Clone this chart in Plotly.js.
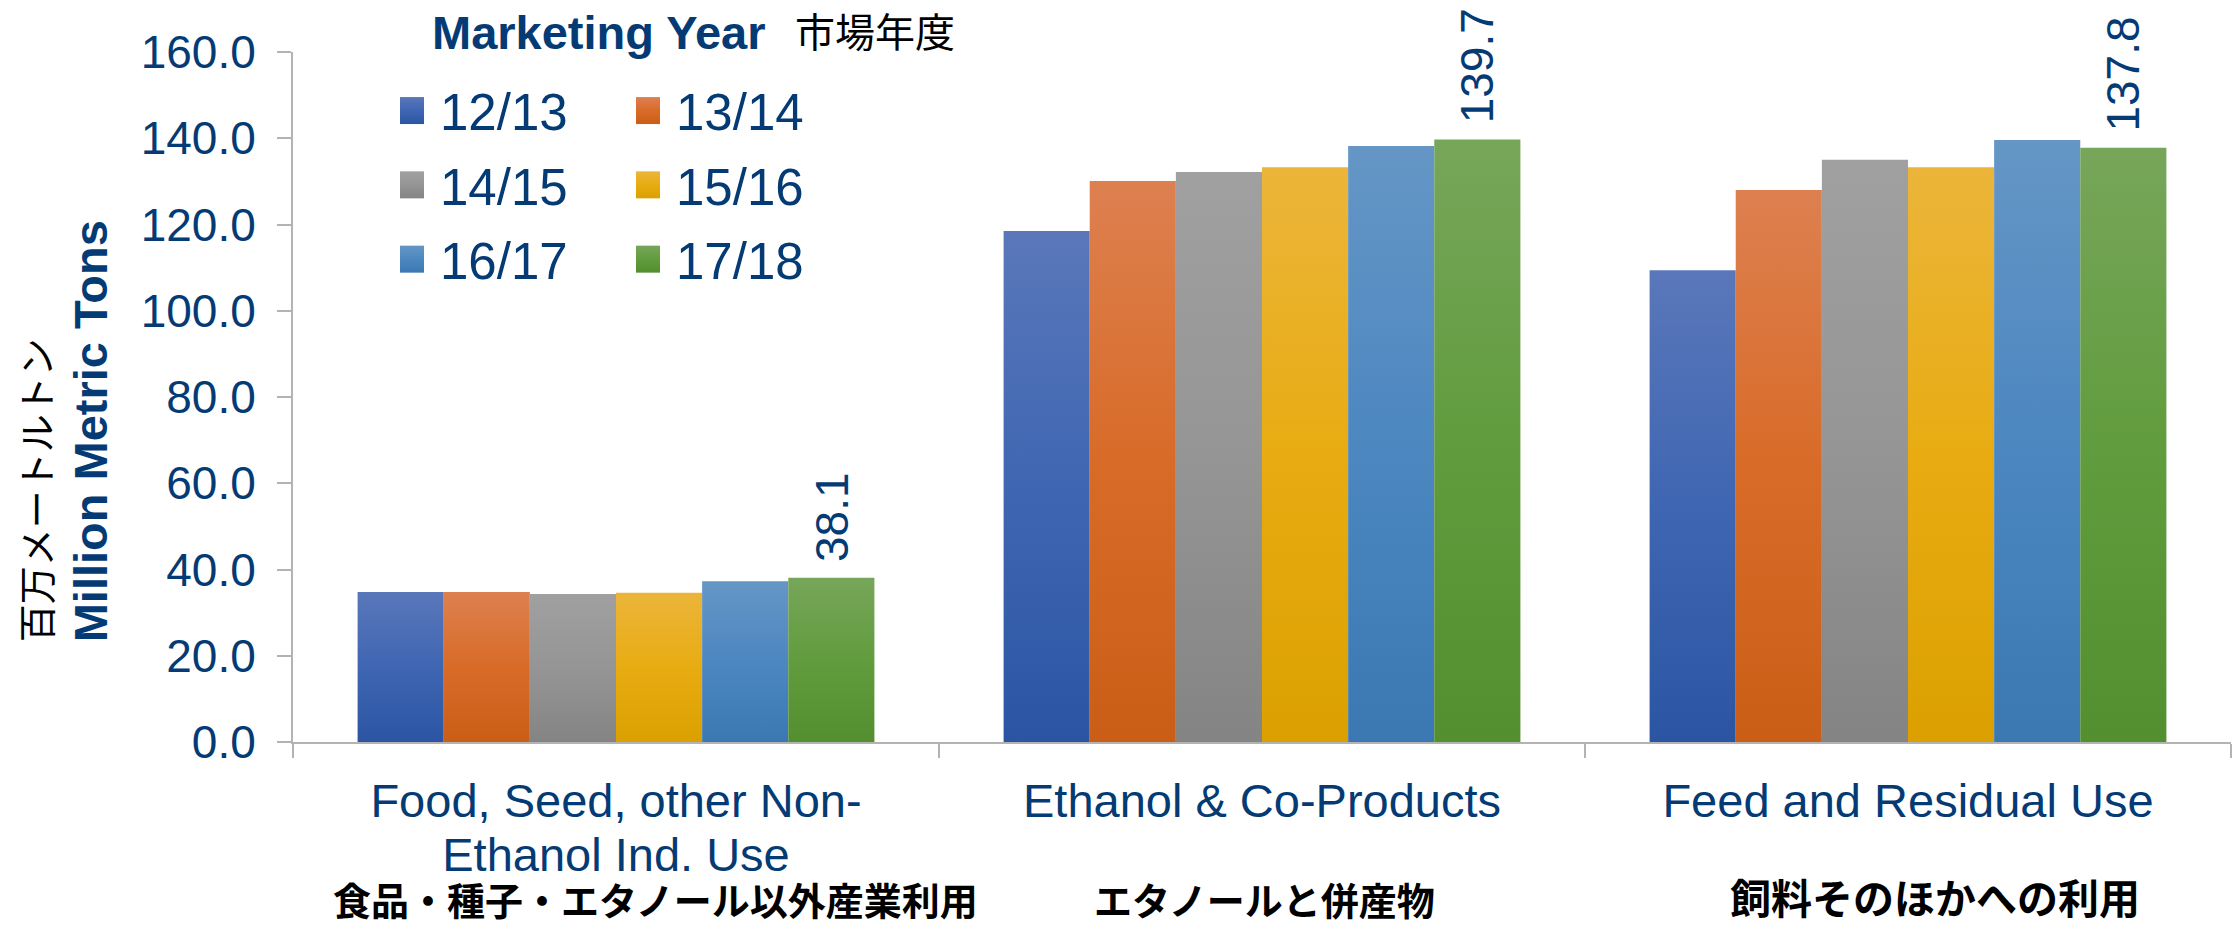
<!DOCTYPE html>
<html>
<head>
<meta charset="utf-8">
<script src="https://cdn.plot.ly/plotly-3.0.1.min.js"></script>
<style>html,body{margin:0;padding:0;background:#fff;}#chart{width:2232px;height:929px;}</style>
</head>
<body>
<div id="chart"></div>
<script>
// ---- data ----
const categories = ['Food, Seed, other Non-Ethanol Ind. Use', 'Ethanol & Co-Products', 'Feed and Residual Use'];
const categoryTickLines = [['Food, Seed, other Non-', 'Ethanol Ind. Use'], ['Ethanol & Co-Products'], ['Feed and Residual Use']];
const categoryJapanese = ['食品・種子・エタノール以外産業利用', 'エタノールと併産物', '飼料そのほかへの利用'];
const seriesNames = ['12/13', '13/14', '14/15', '15/16', '16/17', '17/18'];
const my1213 = [34.8, 118.5, 109.4];
const my1314 = [34.8, 130.1, 128.0];
const my1415 = [34.3, 132.2, 135.0];
const my1516 = [34.6, 133.3, 133.3];
const my1617 = [37.3, 138.2, 139.6];
const my1718 = [38.1, 139.7, 137.8];
const yTickValues = [0, 20, 40, 60, 80, 100, 120, 140, 160];

// ---- styles ----
const seriesValues = [my1213, my1314, my1415, my1516, my1617, my1718];
const midColors = ['#3F66B2', '#D86B28', '#959595', '#E8AC12', '#4C87C0', '#619C3E'];
const topColors = ['#5A77BA', '#DD8050', '#A0A0A0', '#EBB53A', '#6596C6', '#77A65A'];
const botColors = ['#2B55A3', '#CB5E16', '#848484', '#DBA000', '#3B78B2', '#538E2F'];
const navy = '#053B74';
const fontFam = '"Liberation Sans", Arial, "Noto Sans CJK JP", sans-serif';
const cjkFam = '"Noto Sans CJK JP", "Liberation Sans", sans-serif';
const legendOf = ['legend', 'legend2', 'legend', 'legend2', 'legend', 'legend2'];

const categoryTickText = categoryTickLines.map(lines =>
  lines.map(l => '<span style="font-size:47px">' + l + '</span>').join('<br>'));

const data = seriesNames.map((name, i) => ({
  type: 'bar',
  name: name,
  x: categories,
  y: seriesValues[i],
  marker: {color: midColors[i], line: {width: 0}},
  legend: legendOf[i],
  legendgroup: 'g' + i,
  hoverinfo: 'skip'
}));

const nS = seriesNames.length;
const bargap = 0.2;
const lastOffset = ((nS - 1) / 2) * (1 - bargap) / nS;
const lastVals = seriesValues[nS - 1];

const annotations = [];
lastVals.forEach((v, i) => {
  annotations.push({
    x: i + lastOffset, y: v, xref: 'x', yref: 'y',
    text: v.toFixed(1), textangle: -90, showarrow: false,
    xanchor: 'center', yanchor: 'bottom', yshift: 14,
    font: {family: fontFam, size: 46, color: navy}
  });
});
const jpX = [0.1868, 0.5015, 0.8473];
const jpSize = [38, 38, 41];
categoryJapanese.forEach((t, i) => {
  annotations.push({
    x: jpX[i], y: -0.2696, xref: 'paper', yref: 'paper',
    text: t, showarrow: false, xanchor: 'center', yanchor: 'bottom',
    font: {family: cjkFam, size: jpSize[i], color: '#000', weight: 700}
  });
});
// y axis titles
annotations.push({
  x: 0, xref: 'paper', xshift: -259, y: 0.1416, yref: 'paper',
  text: '百万メートルトン', textangle: -90, showarrow: false,
  xanchor: 'center', yanchor: 'bottom',
  font: {family: cjkFam, size: 38, color: '#000'}
});
annotations.push({
  x: 0, xref: 'paper', xshift: -203, y: 0.1416, yref: 'paper',
  text: '<b>Million Metric Tons</b>', textangle: -90, showarrow: false,
  xanchor: 'center', yanchor: 'bottom',
  font: {family: fontFam, size: 47, color: navy}
});
// legend heading (Japanese part)
annotations.push({
  x: 0.258, y: 1.0319, xref: 'paper', yref: 'paper',
  text: '市場年度', showarrow: false, xanchor: 'left', yanchor: 'middle',
  font: {family: cjkFam, size: 40, color: '#000'}
});

const legendCommon = {
  orientation: 'v', xanchor: 'left', yanchor: 'top',
  bgcolor: 'rgba(0,0,0,0)', borderwidth: 0,
  font: {family: fontFam, size: 51, color: navy},
  tracegroupgap: 5, itemclick: false, itemdoubleclick: false
};

const layout = {
  width: 2232, height: 929,
  margin: {l: 293, r: 1, t: 52, b: 187, pad: 0},
  paper_bgcolor: '#fff', plot_bgcolor: '#fff',
  font: {family: fontFam, color: navy},
  barmode: 'group', bargap: bargap, bargroupgap: 0,
  title: {
    text: '<b>Marketing Year</b>', x: 432 / 2232, xref: 'container', xanchor: 'left',
    y: 1 - 33 / 929, yref: 'container', yanchor: 'middle',
    font: {family: fontFam, size: 47, color: navy}
  },
  xaxis: {
    type: 'category',
    tickvals: categories, ticktext: categoryTickText,
    showline: true, linecolor: '#B3B3B3', linewidth: 2,
    ticks: 'outside', tickson: 'boundaries', ticklen: 14, tickcolor: '#B3B3B3', tickwidth: 2,
    tickfont: {family: fontFam, size: 41.5, color: navy},
    showgrid: false, zeroline: false, automargin: false,
    ticklabelstandoff: 23
  },
  yaxis: {
    range: [0, 160], tickvals: yTickValues, tickformat: '.1f',
    showline: true, linecolor: '#B3B3B3', linewidth: 2,
    ticks: 'outside', ticklen: 14, tickcolor: '#B3B3B3', tickwidth: 2,
    tickfont: {family: fontFam, size: 46, color: navy},
    showgrid: false, zeroline: false, automargin: false,
    ticklabelstandoff: 12
  },
  legend: Object.assign({x: (400 - 293) / 1938, y: 0.9726}, legendCommon),
  legend2: Object.assign({x: (636 - 293) / 1938, y: 0.9726}, legendCommon),
  annotations: annotations,
  showlegend: true
};

const gd = document.getElementById('chart');
Plotly.newPlot(gd, data, layout, {displayModeBar: false, responsive: false}).then(applyGradients);

function applyGradients() {
  const ns = 'http://www.w3.org/2000/svg';
  const svg = gd.querySelector('svg.main-svg');
  let defs = svg.querySelector('defs');
  if (!defs) { defs = document.createElementNS(ns, 'defs'); svg.insertBefore(defs, svg.firstChild); }
  topColors.forEach((c, i) => {
    const lg = document.createElementNS(ns, 'linearGradient');
    lg.setAttribute('id', 'bargrad' + i);
    lg.setAttribute('x1', '0'); lg.setAttribute('y1', '0');
    lg.setAttribute('x2', '0'); lg.setAttribute('y2', '1');
    [[0, topColors[i]], [0.5, midColors[i]], [1, botColors[i]]].forEach(([o, col]) => {
      const s = document.createElementNS(ns, 'stop');
      s.setAttribute('offset', o); s.setAttribute('stop-color', col);
      lg.appendChild(s);
    });
    defs.appendChild(lg);
  });
  gd.querySelectorAll('.barlayer .trace.bars').forEach(tr => {
    const d = tr.__data__;
    const idx = d && d[0] && d[0].trace ? d[0].trace.index : null;
    if (idx === null) return;
    tr.querySelectorAll('path').forEach(p => { p.style.fill = 'url(#bargrad' + idx + ')'; });
  });
  gd.querySelectorAll('g.traces').forEach(tr => {
    const d = tr.__data__;
    const idx = d && d[0] && d[0].trace ? d[0].trace.index : null;
    if (idx === null) return;
    tr.querySelectorAll('.legendpoints path').forEach(p => {
      p.setAttribute('d', 'M-23,13.5H4V-13.5H-23Z');
      p.style.fill = 'url(#bargrad' + idx + ')';
      p.style.stroke = 'none';
    });
  });
}
</script>
</body>
</html>
